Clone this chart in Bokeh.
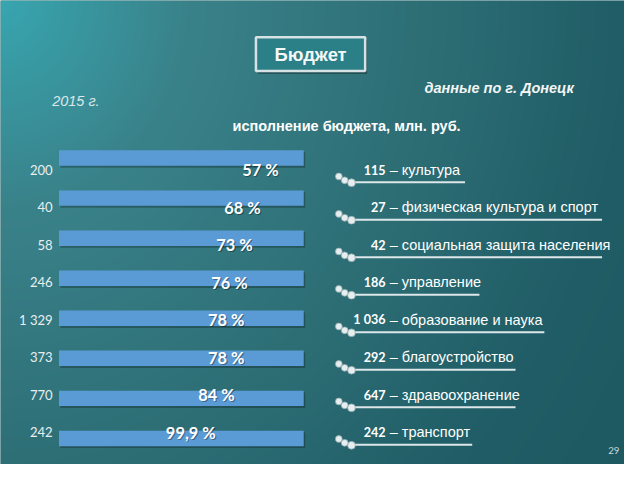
import numpy as np
from bokeh.plotting import figure
from bokeh.models import Range1d
from bokeh.core.properties import value
from bokeh.embed import file_html
from bokeh.resources import INLINE

# ---------------- data ----------------
plan = [200, 40, 58, 246, 1329, 373, 770, 242]
plan_labels = ["200", "40", "58", "246", "1 329", "373", "770", "242"]
actual = [115, 27, 42, 186, 1036, 292, 647, 242]
actual_labels = ["115", "27", "42", "186", "1 036", "292", "647", "242"]
pct = [57, 68, 73, 76, 78, 78, 84, 99.9]
pct_labels = ["57 %", "68 %", "73 %", "76 %", "78 %", "78 %", "84 %", "99,9 %"]
sectors = ["культура", "физическая культура и спорт", "социальная защита населения",
           "управление", "образование и наука", "благоустройство",
           "здравоохранение", "транспорт"]

# ---------------- layout ----------------
W, H = 624, 464          # figure size (reference slide is 640 x 480)
RW, RH = 640.0, 480.0
KX, KY = W / RW, H / RH  # screen px per slide px
X0, SX = 60.0, 2.51      # slide px of 0 %, slide px per %
Y0, SY = 163.0, 41.43    # slide px of first bar centre, slide px per bar row
ROW0, ROW_STEP = 175.0, 38.8   # text rows (slide px)


def X(px):
    return (px - X0) / SX


def Y(py):
    return -(py - Y0) / SY


def fs(size):
    return value(f"{size * KY:.1f}px")


p = figure(width=W, height=H,
           x_range=Range1d(X(0), X(RW)), y_range=Range1d(Y(RH), Y(0)),
           output_backend="svg", toolbar_location=None,
           x_axis_location=None, y_axis_location=None, min_border=0)
p.grid.visible = False
p.outline_line_color = None
p.background_fill_color = "#2c6c73"
p.border_fill_color = "#2c6c73"

# background gradient (slide background)
rows = np.arange(H)[:, None]
cols = np.arange(W)[None, :]
ref_x = (cols + 0.5) / KX
ref_y = (H - rows - 0.5) / KY
d = np.sqrt((ref_x / RW) ** 2 + 0.45 * (ref_y / RH) ** 2)
stops = [0.0, 0.3, 0.67, 1.0, 1.3]
Rs = [56, 58, 46, 32, 29]
Gs = [166, 130, 111, 93, 88]
Bs = [176, 138, 118, 102, 95]
img = np.zeros((H, W), dtype=np.uint32)
view = img.view(dtype=np.uint8).reshape((H, W, 4))
view[..., 0] = np.interp(d, stops, Rs).astype(np.uint8)
view[..., 1] = np.interp(d, stops, Gs).astype(np.uint8)
view[..., 2] = np.interp(d, stops, Bs).astype(np.uint8)
view[..., 3] = 255
p.image_rgba(image=[img], x=X(0), y=Y(RH), dw=X(RW) - X(0), dh=Y(0) - Y(RH))

n = len(plan)
idx = np.arange(n)
bar_y = -idx.astype(float)
bar_right = np.array(plan) / np.array(plan) * 100.0   # each bar = 100 % of plan
bar_h = 16 / SY
row_y = Y(ROW0 + ROW_STEP * idx)

# bars with soft shadow
p.hbar(y=bar_y - 2 / SY, left=1.5 / SX, right=bar_right + 1.5 / SX, height=bar_h,
       fill_color="black", fill_alpha=0.25, line_color=None)
p.hbar(y=bar_y, left=0, right=bar_right, height=bar_h, fill_color="#5b9bd5", line_color=None)

# plan values at left
p.text(x=X(53.5), y=row_y, text=plan_labels, text_align="right", text_baseline="middle",
       text_font=value("Lato"), text_font_size=fs(13.5), text_color="#e8eff1")

# percent labels
pct_arr = np.array(pct)
pct_x = X(233.7 - 1.665 * (pct_arr - 76.74))
p.text(x=pct_x + 1.2 / SX, y=row_y - 1.2 / SY, text=pct_labels, text_align="center",
       text_baseline="middle", text_font=value("Lato"), text_font_style="bold",
       text_font_size=fs(17), text_color="black", text_alpha=0.35)
p.text(x=pct_x, y=row_y, text=pct_labels, text_align="center", text_baseline="middle",
       text_font=value("Lato"), text_font_style="bold", text_font_size=fs(17),
       text_color="#ffffff")

# right-hand list: actual values by sector
NUM_X = 395
rest = ["\u00a0– " + s for s in sectors]
line_end = np.array([NUM_X + 7.4 * len(r) for r in rest])
p.segment(x0=X(360), y0=Y(ROW0 + 13 + ROW_STEP * idx), x1=X(line_end),
          y1=Y(ROW0 + 13 + ROW_STEP * idx), line_color="#dde7e9", line_width=2)
for dx, dy, sz in [(347, 7, 7), (353, 11, 7), (360, 13.5, 8)]:
    p.scatter(x=np.full(n, X(dx)), y=Y(ROW0 + dy + ROW_STEP * idx), size=sz * KY,
              fill_color="#e6eef0", line_color="#93acb0", line_width=0.8)
p.text(x=X(NUM_X), y=row_y, text=actual_labels, text_align="right", text_baseline="middle",
       text_font=value("Lato"), text_font_style="bold", text_font_size=fs(13),
       text_color="#ffffff")
p.text(x=X(NUM_X), y=row_y, text=rest, text_align="left", text_baseline="middle",
       text_font=value("Liberation Sans"), text_font_size=fs(15), text_color="#ffffff")

# title box
p.quad(left=X(264), right=X(376), top=Y(41), bottom=Y(76), fill_color="black",
       fill_alpha=0.3, line_color=None)
p.quad(left=X(262), right=X(374), top=Y(38), bottom=Y(73), fill_color="#2b7f87",
       line_color="#d6e2e4", line_width=2.5)
p.text(x=[X(318)], y=[Y(56)], text=["Бюджет"], text_align="center", text_baseline="middle",
       text_font=value("Liberation Sans"), text_font_style="bold", text_font_size=fs(19),
       text_color="#f4f8f8")

# captions
p.text(x=[X(588)], y=[Y(91)], text=["данные по г. Донецк"], text_align="right",
       text_baseline="middle", text_font=value("Liberation Sans"), text_font_style="bold italic",
       text_font_size=fs(15), text_color="#f2f6f6")
p.text(x=[X(53)], y=[Y(104)], text=["2015 г."], text_align="left", text_baseline="middle",
       text_font=value("Liberation Sans"), text_font_style="italic",
       text_font_size=fs(15), text_color="#dce7e9")
p.text(x=[X(355)], y=[Y(130)], text=["исполнение бюджета, млн. руб."], text_align="center",
       text_baseline="middle", text_font=value("Liberation Sans"), text_font_style="bold",
       text_font_size=fs(15), text_color="#ffffff")
p.text(x=[X(629)], y=[Y(466)], text=["29"], text_align="center", text_baseline="middle",
       text_font=value("Lato"), text_font_size=fs(10), text_color="#c8d8dc")

open("out.html", "w").write(file_html(p, INLINE))
